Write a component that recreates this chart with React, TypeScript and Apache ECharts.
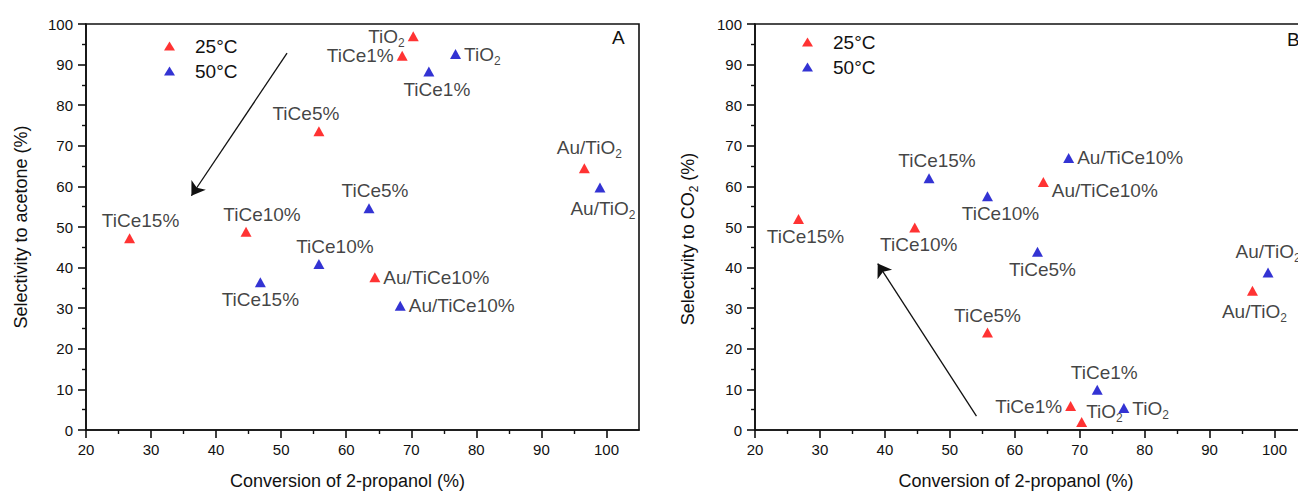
import React, { useEffect, useRef } from "react";
import * as echarts from "echarts";

// catalysts (same order in every array)
const catalysts = ["TiO2", "TiCe1%", "TiCe5%", "TiCe10%", "TiCe15%", "Au/TiO2", "Au/TiCe10%"];
// conversion of 2-propanol (%)
const conv25 = [70.3, 68.6, 55.8, 44.6, 26.7, 96.6, 64.4];
const conv50 = [76.8, 72.7, 63.5, 55.8, 46.8, 99.0, 68.3];
// selectivity to acetone (%)
const acetone25 = [97.0, 92.2, 73.6, 48.8, 47.2, 64.5, 37.6];
const acetone50 = [92.6, 88.3, 54.6, 40.9, 36.4, 59.7, 30.6];
// selectivity to CO2 (%)
const co2_25 = [2.0, 5.9, 24.0, 49.9, 52.0, 34.3, 61.1];
const co2_50 = [5.4, 9.9, 43.9, 57.6, 62.0, 38.8, 67.0];
// trend arrows [start, end] in data units
const arrowA = [[50.9, 92.8], [36.2, 57.7]];
const arrowB = [[54.1, 3.4], [38.9, 41.0]];
// tick values
const xMajorTicks = [20, 30, 40, 50, 60, 70, 80, 90, 100];
const xMinorTicks = [25, 35, 45, 55, 65, 75, 85, 95];
const seriesNames = ["25°C", "50°C"];

const RED = "#ff0000";
const BLUE = "#0000c8";
const INK = "#111111";
const FONT = "'Liberation Sans', Arial, sans-serif";

type Place = [string, number, number];
// label placement per catalyst (layout only)
const placeA25: Place[] = [["left", 0, 0], ["left", 0, 0], ["top", -13, 0], ["top", 16, 0], ["top", 11, 0], ["top", 5, 0], ["right", 0, 0]];
const placeA50: Place[] = [["right", 0, 0], ["bottom", 8, 0], ["top", 6, 0], ["top", 16, 0], ["bottom", 0, 0], ["bottom", 3, 0], ["right", 0, 0]];
const placeB25: Place[] = [["right", -4, -10], ["left", 0, 0], ["top", 0, 0], ["bottom", 4, 0], ["bottom", 7, 0], ["bottom", 2, 0], ["right", 0, 9]];
const placeB50: Place[] = [["right", 0, 0], ["top", 7, 0], ["bottom", 5, 0], ["bottom", 13, 0], ["top", 8, 0], ["top", 0, 0], ["right", 0, 0]];

const subFmt = (s: string) => s.replace(/O2$/, "O{sub|2}");

const richSub = { sub: { fontSize: 12, fontFamily: FONT, color: INK, padding: [13, 0, 0, 0] } };

function scatter(name: string, color: string, xs: number[], ys: number[], place: Place[], gi: number) {
  return {
    type: "scatter",
    name,
    xAxisIndex: gi * 2,
    yAxisIndex: gi,
    symbol: "triangle",
    symbolSize: [11, 10],
    itemStyle: { color },
    z: 5,
    data: catalysts.map((c, i) => ({
      name: c,
      value: [xs[i], ys[i]],
      label: {
        show: true,
        position: place[i][0],
        offset: [place[i][1], place[i][2]],
        distance: 3,
      },
    })),
    label: {
      show: true,
      fontSize: 19,
      fontFamily: FONT,
      color: INK,
      formatter: (p: any) => subFmt(p.name),
      rich: richSub,
    },
  };
}

function arrow(coords: number[][], gi: number) {
  return {
    type: "lines",
    coordinateSystem: "cartesian2d",
    xAxisIndex: gi * 2,
    yAxisIndex: gi,
    symbol: ["none", "arrow"],
    symbolSize: [7, 13],
    lineStyle: { color: INK, width: 1.3, opacity: 1 },
    silent: true,
    z: 3,
    data: [{ coords }],
  };
}

function xAxes(gi: number) {
  return [
    {
      type: "value",
      gridIndex: gi,
      position: "bottom",
      min: 20,
      max: 105,
      interval: 10,
      name: "Conversion of 2-propanol (%)",
      nameLocation: "middle",
      nameGap: 42,
      nameTextStyle: { fontSize: 18, fontFamily: FONT, color: INK, padding: [0, 30, 0, 0] },
      axisLine: { show: true, onZero: false, lineStyle: { color: INK, width: 1.6 } },
      axisTick: { show: true, inside: false, length: 8, customValues: xMajorTicks, lineStyle: { color: INK, width: 1.6 } },
      axisLabel: { show: true, customValues: xMajorTicks, margin: 12, fontSize: 15, fontFamily: FONT, color: INK },
      splitLine: { show: false },
    },
    {
      type: "value",
      gridIndex: gi,
      position: "bottom",
      min: 20,
      max: 105,
      interval: 5,
      axisLine: { show: false, onZero: false },
      axisTick: { show: true, inside: false, length: 4, customValues: xMinorTicks, lineStyle: { color: INK, width: 1.4 } },
      axisLabel: { show: false },
      splitLine: { show: false },
    },
  ];
}

function yAxis(gi: number, name: string, gap: number, pad: number[]) {
  return {
    type: "value",
    gridIndex: gi,
    position: "left",
    min: 0,
    max: 100,
    interval: 10,
    name,
    nameLocation: "middle",
    nameGap: gap,
    nameTextStyle: { fontSize: 18, fontFamily: FONT, color: INK, padding: pad, rich: { sub: { fontSize: 12, fontFamily: FONT, color: INK, padding: [12, 0, 0, 0] } } },
    axisLine: { show: true, onZero: false, lineStyle: { color: INK, width: 1.6 } },
    axisTick: { show: true, inside: false, length: 8, lineStyle: { color: INK, width: 1.6 } },
    minorTick: { show: true, splitNumber: 2, length: 4, lineStyle: { color: INK, width: 1.4 } },
    axisLabel: { margin: 13, fontSize: 15, fontFamily: FONT, color: INK },
    splitLine: { show: false },
    minorSplitLine: { show: false },
  };
}

function legend(left: number, top: number) {
  return {
    data: seriesNames,
    orient: "vertical",
    left,
    top,
    padding: 0,
    itemGap: 5,
    itemWidth: 11,
    itemHeight: 9,
    icon: "triangle",
    selectedMode: false,
    textStyle: { fontSize: 19, fontFamily: FONT, color: INK, lineHeight: 20, padding: [0, 0, 0, 15] },
  };
}

export default function App() {
  const ref = useRef<HTMLDivElement>(null);
  useEffect(() => {
    if (!ref.current) return;
    const chart = echarts.init(ref.current, null, { renderer: "svg" });
    const gridStyle = { show: true, borderColor: INK, borderWidth: 1.6, backgroundColor: "transparent", containLabel: false };
    chart.setOption({
      animation: false,
      backgroundColor: "#ffffff",
      textStyle: { fontFamily: FONT },
      grid: [
        { left: 86, top: 24, width: 553, height: 411, ...gridStyle },
        { left: 755, top: 24, width: 552, height: 410, ...gridStyle },
      ],
      xAxis: [...xAxes(0), ...xAxes(1)],
      yAxis: [
        yAxis(0, "Selectivity to acetone (%)", 56, [0, 0, 0, 0]),
        yAxis(1, "Selectivity to CO{sub|2} (%)", 55, [0, 24, 0, 0]),
      ],
      legend: [legend(164, 36), legend(802, 32)],
      graphic: [
        { type: "text", left: 612, top: 28, style: { text: "A", fontSize: 19, fontFamily: FONT, fill: INK } },
        { type: "text", left: 1287, top: 30, style: { text: "B", fontSize: 19, fontFamily: FONT, fill: INK } },
      ],
      series: [
        scatter(seriesNames[0], RED, conv25, acetone25, placeA25, 0),
        scatter(seriesNames[1], BLUE, conv50, acetone50, placeA50, 0),
        scatter(seriesNames[0], RED, conv25, co2_25, placeB25, 1),
        scatter(seriesNames[1], BLUE, conv50, co2_50, placeB50, 1),
        arrow(arrowA, 0),
        arrow(arrowB, 1),
      ],
    });
    return () => chart.dispose();
  }, []);
  return (
    <div style={{ position: "fixed", left: 0, top: 0, width: 1298, height: 495, overflow: "hidden", background: "#fff" }}>
      <div ref={ref} style={{ width: 1320, height: 495 }} />
    </div>
  );
}
